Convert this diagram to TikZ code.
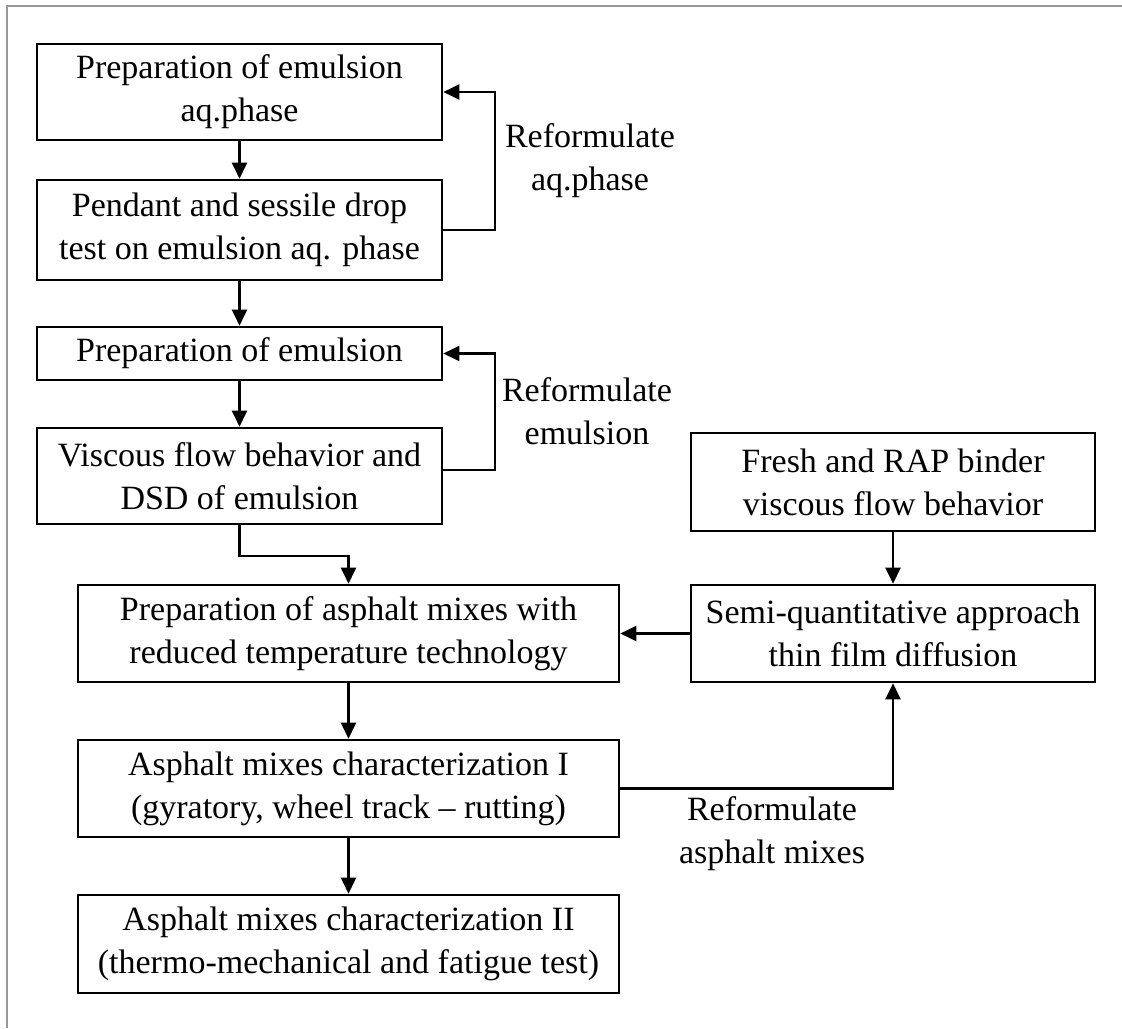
\documentclass[tikz,border=0pt]{standalone}
\usepackage{fontspec}
\setmainfont{Liberation Serif}
\usetikzlibrary{arrows.meta, calc}
\tikzset{
    my-box/.style={
        draw, line width=1.3pt, align=center, inner sep=0pt,
        font=\fontsize{17}{21.5}\selectfont
    },
    my-label/.style={
        align=center, font=\fontsize{17}{21.5}\selectfont
    },
    my-arrow/.style={
        line width=1.1pt, -{Triangle[length=8pt, width=7.5pt]}
    },
}
\begin{document}
\begin{tikzpicture}[x=0.5pt, y=-0.5pt]

        % FRAME
        \useasboundingbox (0,0) rectangle (1122,1028);
        \draw[line width=1pt, gray!80] (7,1028) -- (7,6) -- (1122,6);

        % LEFT COLUMN
        \node[my-box, minimum width=202.5pt, minimum height=48pt]  (AQ)    at (239.5,92)   {Preparation of emulsion\\aq.phase};
        \node[my-box, minimum width=202.5pt, minimum height=50pt]  (DROP)  at (239.5,230)  {Pendant and sessile drop\\test on emulsion aq. phase};
        \node[my-box, minimum width=202.5pt, minimum height=26.5pt] (EMUL) at (239.5,353.5) {Preparation of emulsion};
        \node[my-box, minimum width=202.5pt, minimum height=48pt]  (DSD)   at (239.5,476)  {Viscous flow behavior and\\DSD of emulsion};
        \node[my-box, minimum width=270.5pt, minimum height=48.5pt] (MIX)  at (348.5,633.5) {Preparation of asphalt mixes with\\reduced temperature technology};
        \node[my-box, minimum width=270.5pt, minimum height=48.5pt] (CHARI)  at (348.5,788.5) {Asphalt mixes characterization I\\(gyratory, wheel track -- rutting)};
        \node[my-box, minimum width=270.5pt, minimum height=49pt]  (CHARII) at (348.5,944)   {Asphalt mixes characterization II\\(thermo-mechanical and fatigue test)};

        % RIGHT COLUMN
        \node[my-box, minimum width=202pt, minimum height=49pt]     (RAP)   at (893,482)    {Fresh and RAP binder\\viscous flow behavior};
        \node[my-box, minimum width=202pt, minimum height=48.5pt]  (FILM)  at (893,633.5)  {Semi-quantitative approach\\thin film diffusion};

        % LABELS
        \node[my-label] (LAQ)  at (590,161) {Reformulate\\aq.phase};
        \node[my-label] (LEM)  at (587,411) {Reformulate\\emulsion};
        \node[my-label] (LMIX) at (772,834) {Reformulate\\asphalt mixes};

        % MAIN FLOW
        \draw[my-arrow] (AQ)    -- (DROP);
        \draw[my-arrow] (DROP)  -- (EMUL);
        \draw[my-arrow] (EMUL)  -- (DSD);
        \draw[my-arrow] (DSD.south) -- ++(0,31) -| (MIX.north);
        \draw[my-arrow] (MIX)   -- (CHARI);
        \draw[my-arrow] (CHARI) -- (CHARII);
        \draw[my-arrow] (RAP)   -- (FILM);
        \draw[my-arrow] (FILM)  -- (MIX);

        % FEEDBACK LOOPS
        \draw[my-arrow] (DROP.east) -- ++(52,0) |- (AQ.east);
        \draw[my-arrow] ($(DSD.east) + (0,-6)$) -- ++(52,0) |- (EMUL.east);
        \draw[my-arrow] (CHARI.east) -| (FILM.south);

    \end{tikzpicture}
\end{document}
